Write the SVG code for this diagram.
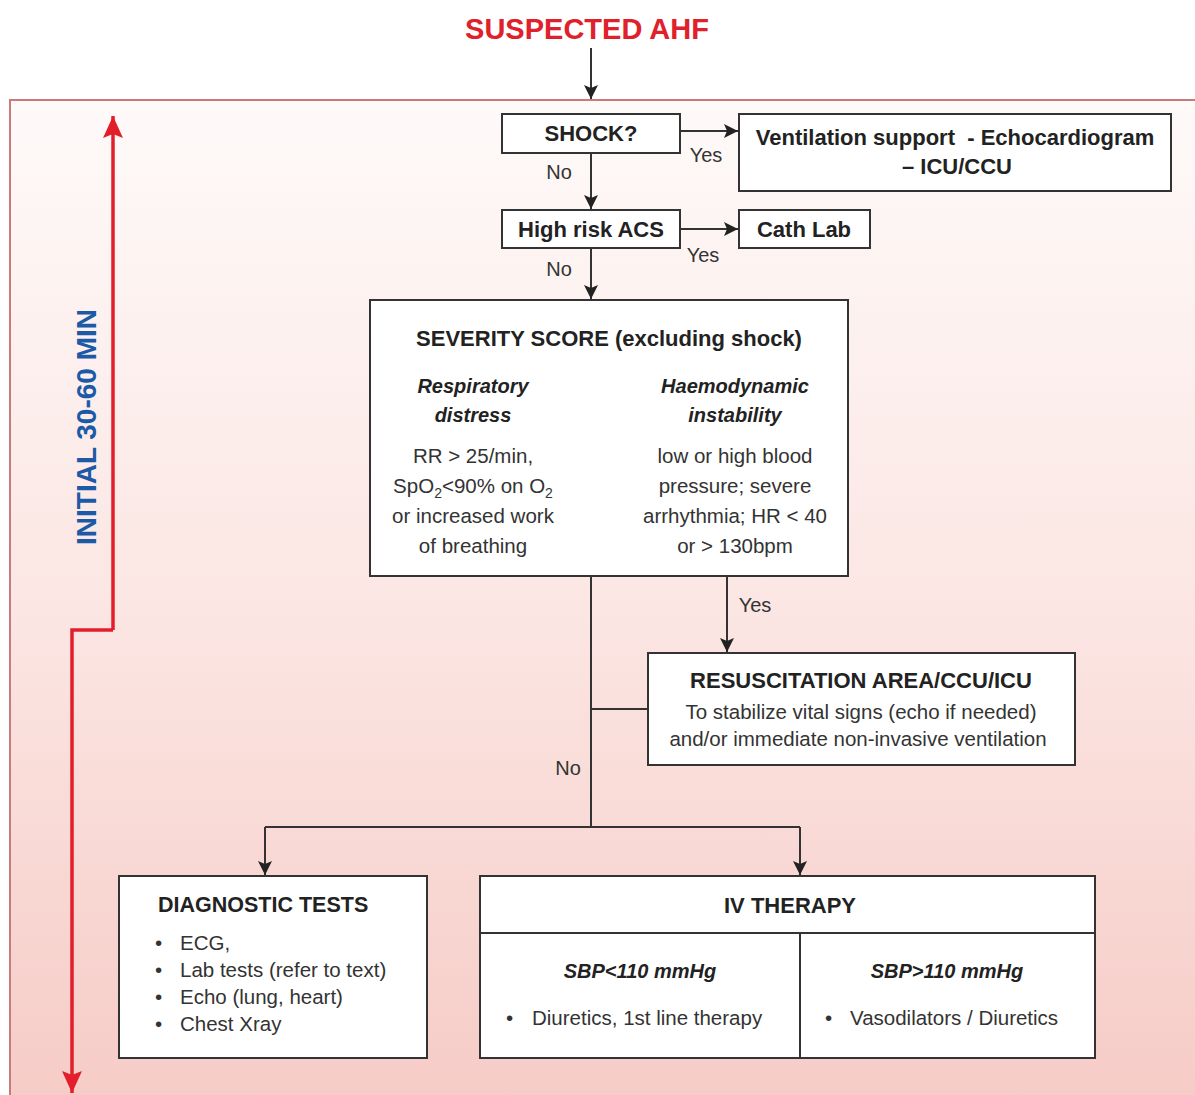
<svg xmlns="http://www.w3.org/2000/svg" width="1195" height="1095" viewBox="0 0 1195 1095">
<defs>
<linearGradient id="bg" x1="0" y1="0" x2="0" y2="1">
<stop offset="0" stop-color="#fefaf9"/>
<stop offset="0.5" stop-color="#fbe6e3"/>
<stop offset="1" stop-color="#f6cbc6"/>
</linearGradient>
<marker id="ah" markerUnits="userSpaceOnUse" markerWidth="14" markerHeight="14" viewBox="0 0 14 14" refX="14" refY="7" orient="auto">
<path d="M0,0 L14,7 L0,14 L3,7 Z" fill="#222"/>
</marker>
<marker id="rh" markerUnits="userSpaceOnUse" markerWidth="22" markerHeight="22" viewBox="0 0 22 22" refX="22" refY="11" orient="auto">
<path d="M0,1 L22,11 L0,21 L4,11 Z" fill="#e31e2b"/>
</marker>
<style>
text{font-family:"Liberation Sans",Arial,sans-serif;fill:#333;}
.b{font-weight:bold;fill:#222;font-size:22px;}
.n{font-size:20.5px;}
.bi{font-weight:bold;font-style:italic;font-size:20px;fill:#222;}
.lbl{font-size:20px;fill:#333;}
.box{fill:#fff;stroke:#333;stroke-width:2;}
.c{fill:none;stroke:#333;stroke-width:2;}
.m{text-anchor:middle;}
</style>
</defs>

<rect x="0" y="0" width="1195" height="1095" fill="#fff"/>
<rect x="10" y="100" width="1200" height="1010" fill="url(#bg)" stroke="#c97a7c" stroke-width="2"/>

<text x="587" y="39" class="m" style="font-weight:bold;font-size:29px;fill:#e0202a;">SUSPECTED AHF</text>

<g id="timeline">
<path d="M113,630 L113,116" fill="none" stroke="#e31e2b" stroke-width="3.5" marker-end="url(#rh)"/>
<path d="M113,630 L72,630 L72,1093" fill="none" stroke="#e31e2b" stroke-width="3.5" marker-end="url(#rh)"/>
<text transform="translate(96,427) rotate(-90)" class="m" style="font-weight:bold;font-size:28px;fill:#1c5aa8;">INITIAL 30-60 MIN</text>
</g>

<g id="connectors">
<path class="c" d="M591,48 L591,99" marker-end="url(#ah)"/>
<path class="c" d="M680,131 L738,131" marker-end="url(#ah)"/>
<path class="c" d="M591,153 L591,209" marker-end="url(#ah)"/>
<path class="c" d="M680,229 L738,229" marker-end="url(#ah)"/>
<path class="c" d="M591,248 L591,299" marker-end="url(#ah)"/>
<path class="c" d="M727,576 L727,652" marker-end="url(#ah)"/>
<path class="c" d="M591,576 L591,827"/>
<path class="c" d="M591,709 L648,709"/>
<path class="c" d="M265,827 L800,827"/>
<path class="c" d="M265,827 L265,875" marker-end="url(#ah)"/>
<path class="c" d="M800,827 L800,875" marker-end="url(#ah)"/>
<text x="706" y="162" class="lbl m">Yes</text>
<text x="559" y="179" class="lbl m">No</text>
<text x="703" y="262" class="lbl m">Yes</text>
<text x="559" y="276" class="lbl m">No</text>
<text x="755" y="612" class="lbl m">Yes</text>
<text x="568" y="775" class="lbl m">No</text>
</g>

<g id="shock">
<rect class="box" x="502" y="114" width="178" height="39"/>
<text x="591" y="141" class="b m">SHOCK?</text>
</g>

<g id="ventilation">
<rect class="box" x="739" y="114" width="432" height="77"/>
<text x="955" y="145" class="b m" xml:space="preserve">Ventilation support  - Echocardiogram</text>
<text x="957" y="174" class="b m">– ICU/CCU</text>
</g>

<g id="acs">
<rect class="box" x="502" y="210" width="178" height="38"/>
<text x="591" y="237" class="b m">High risk ACS</text>
</g>

<g id="cathlab">
<rect class="box" x="739" y="210" width="131" height="38"/>
<text x="804" y="237" class="b m">Cath Lab</text>
</g>

<g id="severity">
<rect class="box" x="370" y="300" width="478" height="276"/>
<text x="609" y="346" class="b m">SEVERITY SCORE (excluding shock)</text>
<text x="473" y="393" class="bi m">Respiratory</text>
<text x="473" y="422" class="bi m">distress</text>
<text x="735" y="393" class="bi m">Haemodynamic</text>
<text x="735" y="422" class="bi m">instability</text>
<text x="473" y="463" class="n m">RR &gt; 25/min,</text>
<text x="473" y="493" class="n m">SpO<tspan font-size="14" dy="5">2</tspan><tspan dy="-5">&lt;90% on O</tspan><tspan font-size="14" dy="5">2</tspan></text>
<text x="473" y="523" class="n m">or increased work</text>
<text x="473" y="553" class="n m">of breathing</text>
<text x="735" y="463" class="n m">low or high blood</text>
<text x="735" y="493" class="n m">pressure; severe</text>
<text x="735" y="523" class="n m">arrhythmia; HR &lt; 40</text>
<text x="735" y="553" class="n m">or &gt; 130bpm</text>
</g>

<g id="resuscitation">
<rect class="box" x="648" y="653" width="427" height="112"/>
<text x="861" y="688" class="b m">RESUSCITATION AREA/CCU/ICU</text>
<text x="861" y="719" class="n m">To stabilize vital signs (echo if needed)</text>
<text x="858" y="746" class="n m">and/or immediate non-invasive ventilation</text>
</g>

<g id="diagnostic">
<rect class="box" x="119" y="876" width="308" height="182"/>
<text x="158" y="912" class="b" style="font-size:21.5px">DIAGNOSTIC TESTS</text>
<text x="155" y="950" class="n">•</text><text x="180" y="950" class="n">ECG,</text>
<text x="155" y="977" class="n">•</text><text x="180" y="977" class="n">Lab tests (refer to text)</text>
<text x="155" y="1004" class="n">•</text><text x="180" y="1004" class="n">Echo (lung, heart)</text>
<text x="155" y="1031" class="n">•</text><text x="180" y="1031" class="n">Chest Xray</text>
</g>

<g id="ivtherapy">
<rect class="box" x="480" y="876" width="615" height="182"/>
<path class="c" d="M480,933 L1095,933 M800,933 L800,1058"/>
<text x="790" y="913" class="b m">IV THERAPY</text>
<text x="640" y="978" class="bi m">SBP&lt;110 mmHg</text>
<text x="947" y="978" class="bi m">SBP&gt;110 mmHg</text>
<text x="506" y="1025" class="n">•</text><text x="532" y="1025" class="n">Diuretics, 1st line therapy</text>
<text x="825" y="1025" class="n">•</text><text x="850" y="1025" class="n">Vasodilators / Diuretics</text>
</g>
</svg>
